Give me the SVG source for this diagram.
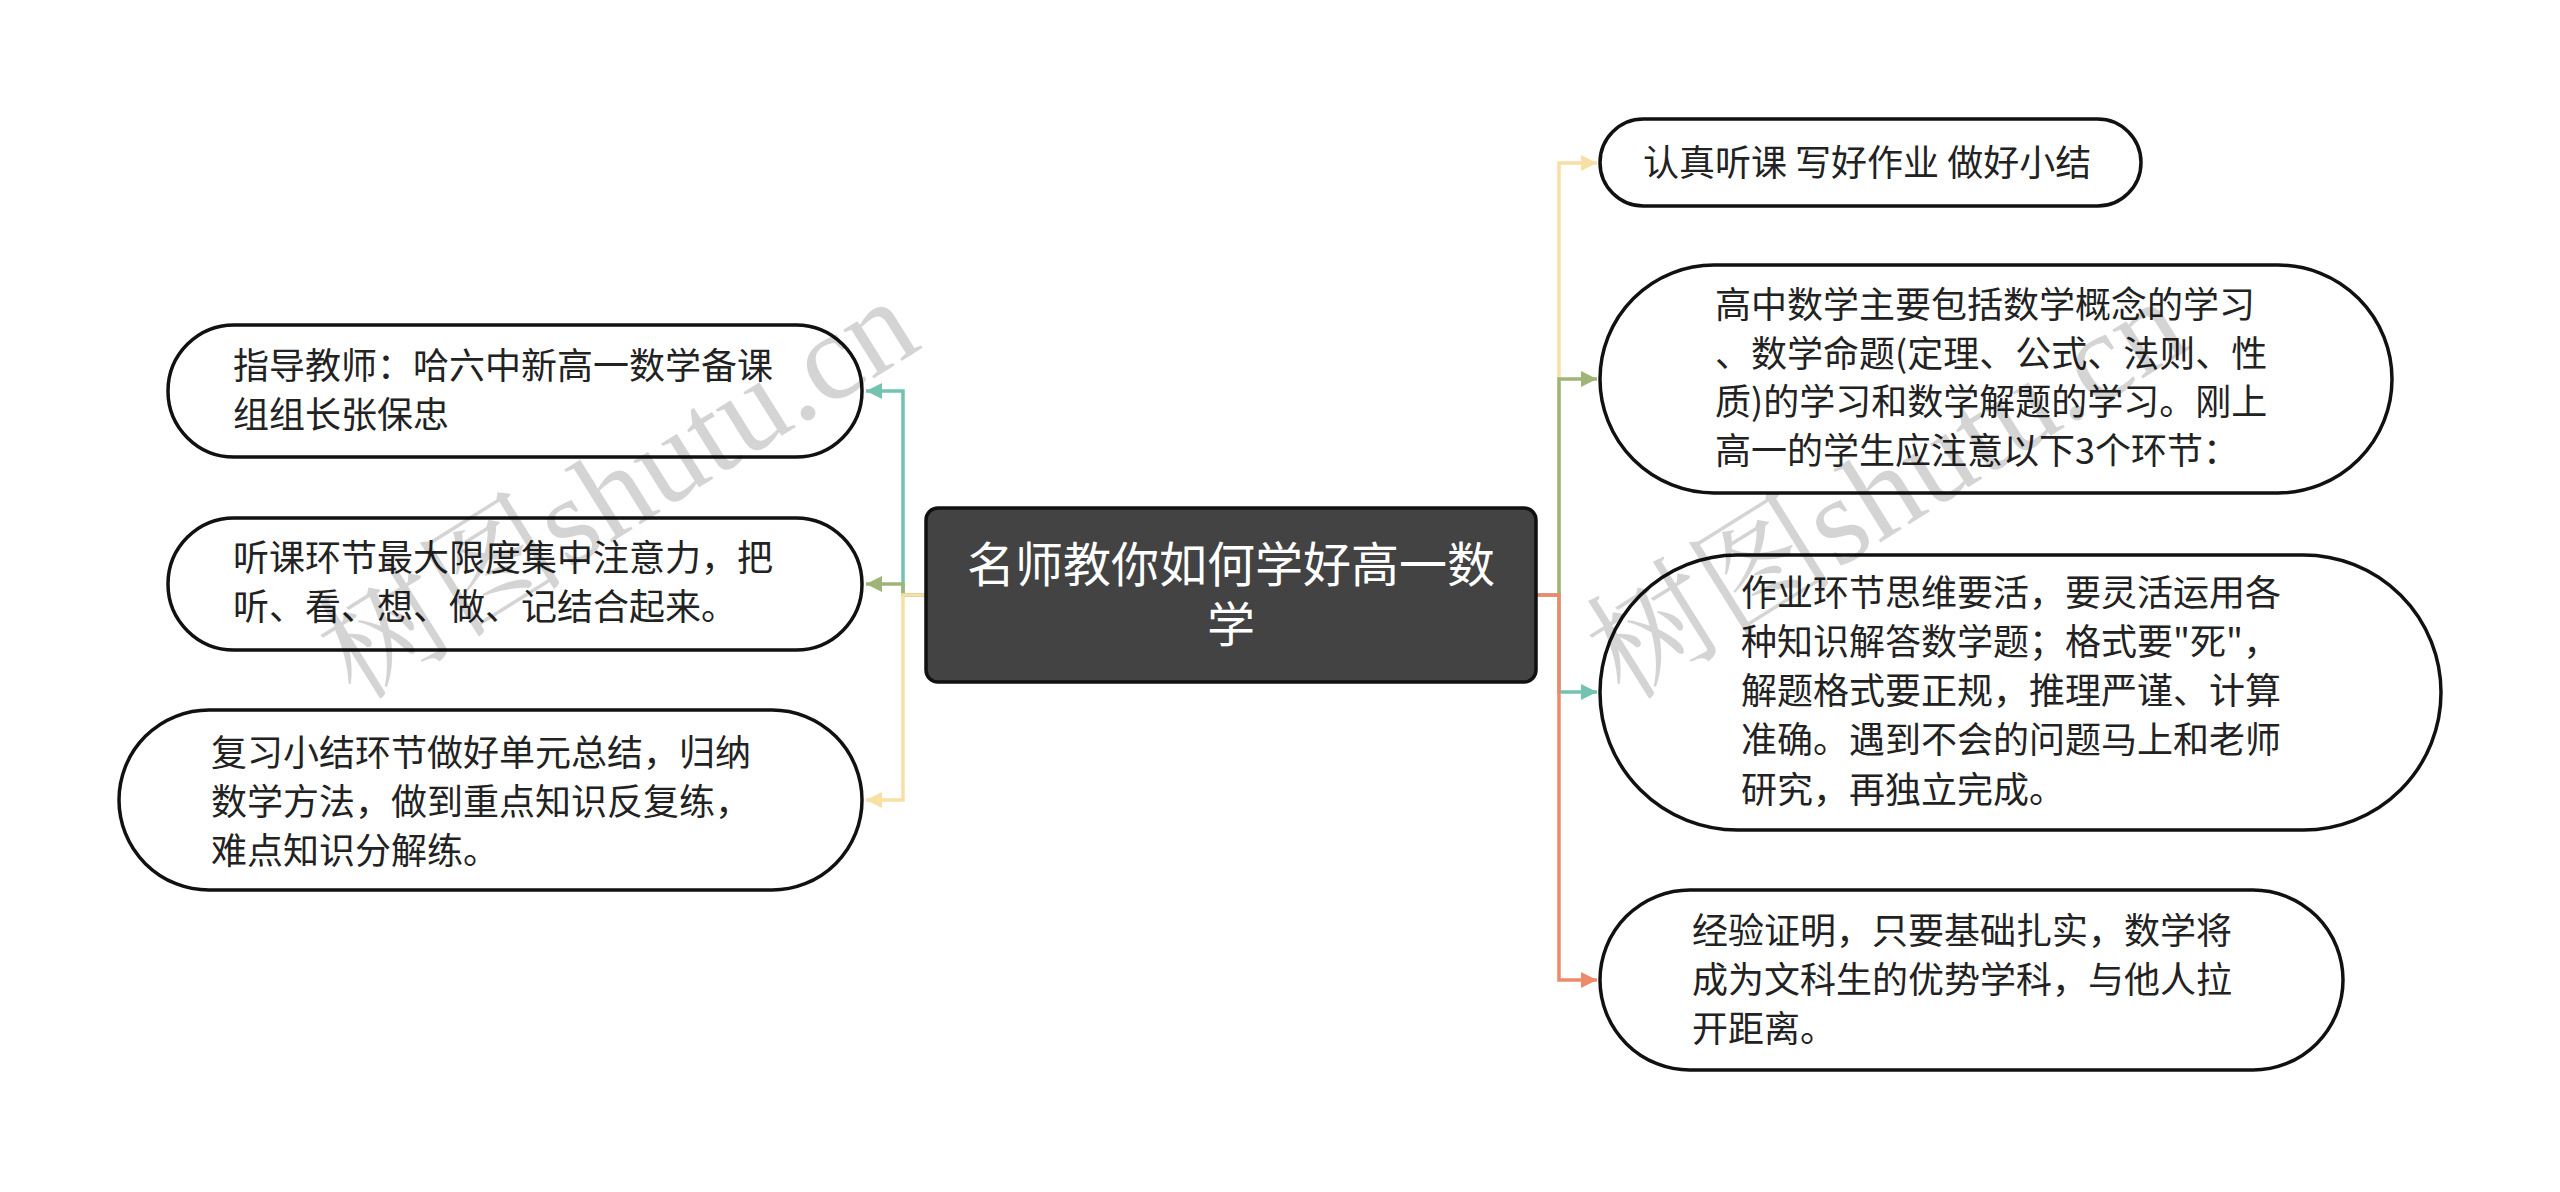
<svg xmlns="http://www.w3.org/2000/svg" width="2560" height="1192" viewBox="0 0 2560 1192">
<defs>
<style>
.node rect.n{fill:#fff;stroke:#111;stroke-width:3.5}
.node text{font-family:"Noto Sans CJK SC","Noto Sans",sans-serif;font-size:36px;fill:#222}
.root rect{fill:#434343;stroke:#111;stroke-width:3.5}
.root text{font-family:"Noto Sans CJK SC","Noto Sans",sans-serif;font-size:48px;fill:#fff;text-anchor:middle}
.c{fill:none;stroke-width:3.5}
.wm{font-family:"Liberation Serif","Noto Serif CJK SC","Noto Sans CJK SC",serif;font-size:125px;fill:#000;fill-opacity:0.17}
</style>
<marker id="aT" markerUnits="userSpaceOnUse" markerWidth="18" markerHeight="16" refX="16" refY="8" orient="auto"><path d="M0,0 L16,8 L0,16 Z" fill="#74c2b2"/></marker>
<marker id="aG" markerUnits="userSpaceOnUse" markerWidth="18" markerHeight="16" refX="16" refY="8" orient="auto"><path d="M0,0 L16,8 L0,16 Z" fill="#9fb577"/></marker>
<marker id="aY" markerUnits="userSpaceOnUse" markerWidth="18" markerHeight="16" refX="16" refY="8" orient="auto"><path d="M0,0 L16,8 L0,16 Z" fill="#f8dfa3"/></marker>
<marker id="aO" markerUnits="userSpaceOnUse" markerWidth="18" markerHeight="16" refX="16" refY="8" orient="auto"><path d="M0,0 L16,8 L0,16 Z" fill="#ee8a6c"/></marker>
</defs>
<rect width="2560" height="1192" fill="#fff"/>
<g id="connectors">
<path class="c" stroke="#74c2b2" d="M926 595 H903 V391 H866" marker-end="url(#aT)"/>
<path class="c" stroke="#9fb577" d="M926 595 H903 V584 H866" marker-end="url(#aG)"/>
<path class="c" stroke="#f8dfa3" d="M926 595 H903 V800 H866" marker-end="url(#aY)"/>
<path class="c" stroke="#f8dfa3" d="M1536 595 H1559 V163 H1597" marker-end="url(#aY)"/>
<path class="c" stroke="#9fb577" d="M1536 595 H1559 V379 H1597" marker-end="url(#aG)"/>
<path class="c" stroke="#74c2b2" d="M1536 595 H1559 V692 H1597" marker-end="url(#aT)"/>
<path class="c" stroke="#ee8a6c" d="M1536 595 H1559 V980 H1597" marker-end="url(#aO)"/>
</g>
<g id="root" class="root">
<rect x="926" y="508" width="610" height="174" rx="12"/>
<text x="1231" y="582">名师教你如何学好高一数</text>
<text x="1231" y="642">学</text>
</g>
<g id="L1" class="node">
<rect class="n" x="168" y="325" width="694" height="132" rx="66"/>
<text x="233" y="379">指导教师：哈六中新高一数学备课</text>
<text x="233" y="428">组组长张保忠</text>
</g>
<g id="L2" class="node">
<rect class="n" x="168" y="518" width="694" height="132" rx="66"/>
<text x="233" y="571">听课环节最大限度集中注意力，把</text>
<text x="233" y="620">听、看、想、做、记结合起来。</text>
</g>
<g id="L3" class="node">
<rect class="n" x="119" y="710" width="743" height="180" rx="90"/>
<text x="211" y="766">复习小结环节做好单元总结，归纳</text>
<text x="211" y="815">数学方法，做到重点知识反复练，</text>
<text x="211" y="864">难点知识分解练。</text>
</g>
<g id="R1" class="node">
<rect class="n" x="1600" y="119" width="541" height="87" rx="43.5"/>
<text x="1643" y="176">认真听课 写好作业 做好小结</text>
</g>
<g id="R2" class="node">
<rect class="n" x="1600" y="265" width="792" height="228" rx="114"/>
<text x="1715" y="318">高中数学主要包括数学概念的学习</text>
<text x="1715" y="367">、数学命题(定理、公式、法则、性</text>
<text x="1715" y="415">质)的学习和数学解题的学习。刚上</text>
<text x="1715" y="464">高一的学生应注意以下3个环节：</text>
</g>
<g id="R3" class="node">
<rect class="n" x="1600" y="555" width="841" height="275" rx="137.5"/>
<text x="1741" y="606">作业环节思维要活，要灵活运用各</text>
<text x="1741" y="655">种知识解答数学题；格式要"死"，</text>
<text x="1741" y="704">解题格式要正规，推理严谨、计算</text>
<text x="1741" y="753">准确。遇到不会的问题马上和老师</text>
<text x="1741" y="803">研究，再独立完成。</text>
</g>
<g id="R4" class="node">
<rect class="n" x="1600" y="890" width="743" height="180" rx="90"/>
<text x="1692" y="944">经验证明，只要基础扎实，数学将</text>
<text x="1692" y="993">成为文科生的优势学科，与他人拉</text>
<text x="1692" y="1042">开距离。</text>
</g>
<g id="watermark">
<text class="wm" transform="translate(356 702) rotate(-32)">树图shutu.cn</text>
<text class="wm" transform="translate(1625 702) rotate(-32)">树图shutu.cn</text>
</g>
</svg>
